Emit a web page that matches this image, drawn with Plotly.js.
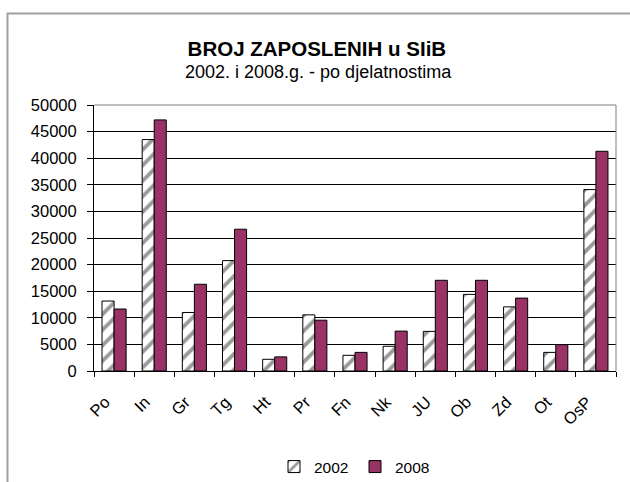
<!DOCTYPE html>
<html>
<head>
<meta charset="utf-8">
<script src="https://cdn.plot.ly/plotly-3.0.1.min.js"></script>
<style>
html,body{margin:0;padding:0;background:#fff;}
#chart{width:630px;height:482px;}
</style>
</head>
<body>
<div id="chart"></div>
<script>
var categories = ['Po','In','Gr','Tg','Ht','Pr','Fn','Nk','JU','Ob','Zd','Ot','OsP'];
var values2002 = [13150, 43500, 11000, 20750, 2200, 10550, 2950, 4650, 7450, 14400, 12050, 3500, 34100];
var values2008 = [11650, 47200, 16300, 26650, 2650, 9550, 3500, 7500, 17050, 17050, 13700, 4950, 41300];
var seriesNames = ['2002', '2008'];
var yTicks = [0,5000,10000,15000,20000,25000,30000,35000,40000,45000,50000];

var FONT = '"Liberation Sans", Arial, sans-serif';

var traces = [
  {
    type: 'bar', name: seriesNames[0], x: categories, y: values2002,
    marker: {
      color: '#ffffff',
      line: {color: '#000000', width: 1},
      pattern: {shape: '/', fgcolor: '#9a9a9a', bgcolor: '#ffffff', size: 11, solidity: 0.35}
    }
  },
  {
    type: 'bar', name: seriesNames[1], x: categories, y: values2008,
    marker: {color: '#993366', line: {color: '#000000', width: 1}}
  }
];

var L = 94, R = 14, T = 105, B = 111;
var pw = 630 - L - R, ph = 482 - T - B;

var layout = {
  width: 630, height: 482,
  margin: {l: L, r: R, t: T, b: B, pad: 0, autoexpand: false},
  paper_bgcolor: '#ffffff', plot_bgcolor: '#ffffff',
  font: {family: FONT, color: '#000000', size: 16},
  title: {
    text: '<b>BROJ ZAPOSLENIH u SIiB</b>',
    font: {family: FONT, size: 20.5, color: '#000'},
    x: 0.503, xref: 'container', xanchor: 'center',
    y: 1 - 48.5/482, yref: 'container', yanchor: 'middle',
    automargin: false
  },
  annotations: [{
    text: '2002. i 2008.g. - po djelatnostima',
    xref: 'paper', yref: 'paper',
    x: (318 - L)/pw, y: (371 - 72)/ph,
    xanchor: 'center', yanchor: 'middle', showarrow: false,
    font: {family: FONT, size: 18, color: '#000'}
  }],
  barmode: 'group', bargap: 0.4, bargroupgap: 0,
  xaxis: {
    type: 'category', tickangle: -45, automargin: false,
    showline: true, linecolor: '#000', linewidth: 1,
    ticks: 'outside', tickson: 'boundaries', ticklen: 5, tickcolor: '#000', tickwidth: 1,
    ticklabelstandoff: 14, ticklabelshift: -9,
    showgrid: false, zeroline: false,
    tickfont: {family: FONT, size: 16.5, color: '#000'}
  },
  yaxis: {
    range: [0, 50000], tickmode: 'array', tickvals: yTicks, tickformat: 'd',
    automargin: false,
    showline: true, linecolor: '#000', linewidth: 1,
    ticks: 'outside', ticklen: 6, tickcolor: '#000', tickwidth: 1,
    ticklabelstandoff: 7,
    showgrid: true, gridcolor: '#000', gridwidth: 1,
    zeroline: false,
    tickfont: {family: FONT, size: 16.5, color: '#000'}
  },
  legend: {
    orientation: 'h', x: (355 - L)/pw, y: (371 - 467)/ph,
    xanchor: 'center', yanchor: 'middle',
    font: {family: FONT, size: 15.5, color: '#000'},
    itemclick: false, tracegroupgap: 0, itemwidth: 30,
    entrywidth: 36
  },
  shapes: [
    {type: 'line', xref: 'paper', yref: 'paper', x0: 0, x1: 1, y0: 1, y1: 1, line: {color: '#808080', width: 1}},
    {type: 'line', xref: 'paper', yref: 'paper', x0: 1, x1: 1, y0: 0, y1: 1, line: {color: '#808080', width: 1}},
    {type: 'rect', xref: 'paper', yref: 'paper', layer: 'below',
     x0: (7.5 - L)/pw, x1: 2, y0: -1, y1: (371 - 13.5)/ph,
     line: {color: '#a0a0a0', width: 2}, fillcolor: 'rgba(0,0,0,0)'}
  ],
  showlegend: true
};

Plotly.newPlot('chart', traces, layout, {displayModeBar: false, staticPlot: true});
</script>
</body>
</html>
